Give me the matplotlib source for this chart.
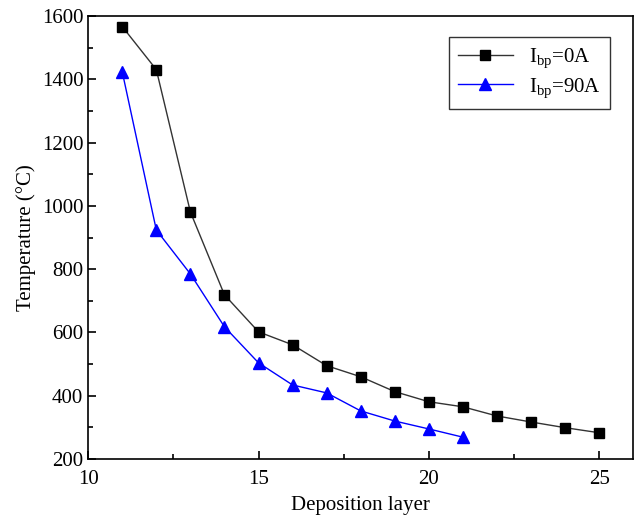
import matplotlib.pyplot as plt
from matplotlib.ticker import MultipleLocator

plt.rcParams['font.family'] = ['Liberation Serif', 'DejaVu Serif']
plt.rcParams['mathtext.fontset'] = 'custom'
plt.rcParams['mathtext.rm'] = 'Liberation Serif'

# camadas de deposicao
layers_0a = [11, 12, 13, 14, 15, 16, 17, 18, 19, 20, 21, 22, 23, 24, 25]
temp_0a = [1567, 1431, 981, 719, 602, 561, 495, 460, 413, 381, 365, 336, 317, 299, 283]
layers_90a = [11, 12, 13, 14, 15, 16, 17, 18, 19, 20, 21]
temp_90a = [1424, 924, 785, 618, 504, 434, 409, 352, 320, 295, 269]

fig = plt.figure(figsize=(6.39, 5.21), dpi=100)
ax = fig.add_axes([0.138, 0.119, 0.853, 0.850])

ax.plot(layers_0a, temp_0a, color='#333333', lw=1, marker='s', ms=7.5,
        mfc='black', mec='black', label=r'$\mathrm{I_{bp}}$=0A')
ax.plot(layers_90a, temp_90a, color='blue', lw=1, marker='^', ms=9,
        mfc='blue', mec='blue', label=r'$\mathrm{I_{bp}}$=90A')

ax.set_xlim(10, 26)
ax.set_ylim(200, 1600)
ax.xaxis.set_major_locator(MultipleLocator(5))
ax.xaxis.set_minor_locator(MultipleLocator(2.5))
ax.yaxis.set_major_locator(MultipleLocator(200))
ax.yaxis.set_minor_locator(MultipleLocator(100))
ax.tick_params(which='both', direction='in', labelsize=15, width=1.2)
ax.tick_params(which='major', length=6)
ax.tick_params(which='minor', length=3.5)
ax.tick_params(axis='x', pad=8)
for s in ax.spines.values():
    s.set_linewidth(1.2)

ax.set_xlabel('Deposition layer', fontsize=15, labelpad=5)
ax.set_ylabel('Temperature (°C)', fontsize=15, labelpad=4)

leg = ax.legend(loc='upper right', bbox_to_anchor=(0.958, 0.953), borderaxespad=0,
                fontsize=15, fancybox=False, edgecolor='#333333', framealpha=1,
                handlelength=2.6, borderpad=0.45, labelspacing=0.3)
leg.get_frame().set_linewidth(1)

plt.savefig('out.png', dpi=100)
